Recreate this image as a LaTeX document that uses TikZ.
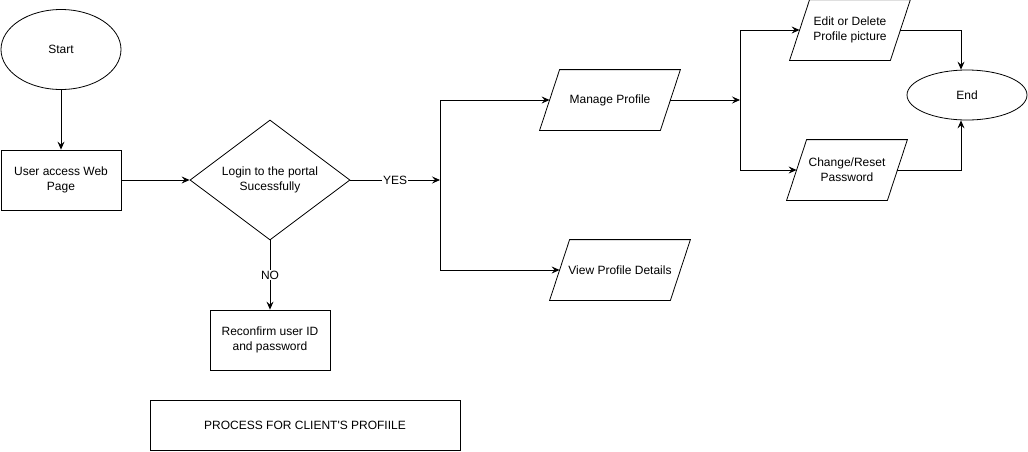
\documentclass[tikz,border=0pt]{standalone}
\usepackage{fontspec}
\setmainfont{Liberation Sans}
\usetikzlibrary{shapes.geometric,arrows.meta}

\begin{document}
\begin{tikzpicture}[x=1pt, y=-1pt, line width=0.8pt,
    every node/.style={font=\fontsize{12}{15}\selectfont, align=center},
    term/.style={ellipse, draw, minimum width=120pt, inner sep=0pt},
    proc/.style={rectangle, draw, minimum width=120pt, minimum height=60pt, inner sep=0pt},
    io/.style={rectangle, minimum height=60pt, inner sep=0pt},
    arr/.style={-{Stealth[length=8pt, width=7pt, inset=3pt]}}]
	\useasboundingbox (0,0) rectangle (1028,451);
    \node[term, minimum height=80pt] (start) at (61,49.5) {Start};
    \node[proc] (webpage) at (61,180) {User access Web\\Page};
    \node[diamond, draw, aspect=1.333, minimum width=160pt, minimum height=120pt, inner sep=0pt] (login) at (270,180) {Login to the portal\\Sucessfully};
    \node[proc] (reconfirm) at (270,340) {Reconfirm user ID\\and password};
    \node[io, minimum width=140pt] (manage) at (610,100) {Manage Profile};
    \node[io, minimum width=140pt] (view) at (620,270) {View Profile Details};
    \node[io, minimum width=120pt] (editpic) at (850,30) {Edit or Delete\\Profile picture};
    \node[io, minimum width=120pt] (chpass) at (847,170) {Change/Reset\\Password};
    \node[term, minimum height=50pt] (finish) at (967,95) {End};
    \node[rectangle, draw, minimum width=310pt, minimum height=50pt] (title) at (305,425.5) {PROCESS FOR CLIENT\textquotesingle S PROFIILE};
    % slanted outlines of the input/output boxes
    \foreach \n in {manage,view,editpic,chpass}
        \draw ([xshift=20pt]\n.north west) -- (\n.north east) -- ([xshift=-20pt]\n.south east) -- (\n.south west) -- cycle;
    \coordinate (yes) at (440,180);
    \coordinate (fork) at (740,100);
    %\fill (yes) circle (1pt);
    \draw[arr] (start) -- (webpage);
    \draw[arr] (webpage) -- (login);
    \draw[arr] (login) -- node[fill=white, inner sep=1pt]{YES} (yes);
    \draw[arr] (login) -- node[fill=white, inner sep=1pt]{NO} (reconfirm);
    \draw[arr] (yes) |- ([xshift=10pt]manage.west);
    \draw[arr] (yes) |- ([xshift=10pt]view.west);
    \draw[arr] ([xshift=-10pt]manage.east) -- (fork);
    \draw[arr] (fork) |- ([xshift=10pt]editpic.west);
    \draw[arr] (fork) |- ([xshift=10pt]chpass.west);
    \draw[arr] ([xshift=-10pt]editpic.east) -| ([xshift=-6pt]finish.north);
    \draw[arr] ([xshift=-10pt]chpass.east) -| ([xshift=-6pt]finish.south);
\end{tikzpicture}
\end{document}
